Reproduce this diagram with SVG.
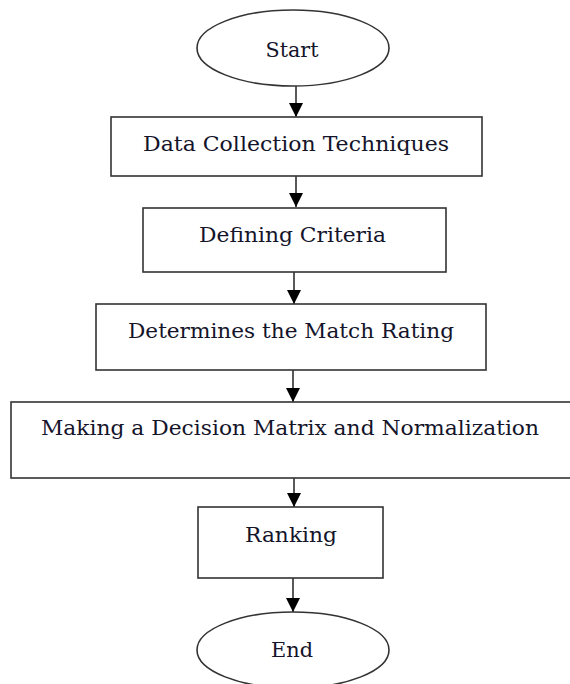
<svg xmlns="http://www.w3.org/2000/svg" width="570" height="684" viewBox="0 0 570 684">
<style>
.shape{fill:#fff;stroke:#333;stroke-width:1.6}
.lbl{font-family:"DejaVu Serif","Liberation Serif",serif;font-size:20.5px;fill:#14142a;text-anchor:middle}
.conn{stroke:#222;stroke-width:1.5;fill:none}
</style>
<defs>
<marker id="arrow" markerUnits="userSpaceOnUse" markerWidth="14" markerHeight="14" refX="14" refY="7" orient="auto" viewBox="0 0 14 14">
<path d="M0,0 L14,7 L0,14 Z" fill="#000"/>
</marker>
</defs>
<rect width="570" height="684" fill="#fff"/>
<g id="connectors">
<line class="conn" x1="296" y1="86" x2="296" y2="117" marker-end="url(#arrow)"/>
<line class="conn" x1="296" y1="176" x2="296" y2="207" marker-end="url(#arrow)"/>
<line class="conn" x1="294" y1="272" x2="294" y2="304" marker-end="url(#arrow)"/>
<line class="conn" x1="293" y1="370" x2="293" y2="402" marker-end="url(#arrow)"/>
<line class="conn" x1="294" y1="478" x2="294" y2="507" marker-end="url(#arrow)"/>
<line class="conn" x1="293" y1="578" x2="293" y2="612" marker-end="url(#arrow)"/>
</g>
<g id="start">
<ellipse class="shape" cx="293" cy="48" rx="96" ry="38"/>
<text class="lbl" x="292" y="57" textLength="53" lengthAdjust="spacingAndGlyphs">Start</text>
</g>
<g id="data-collection">
<rect class="shape" x="111" y="117" width="371" height="59"/>
<text class="lbl" x="296" y="151" textLength="306" lengthAdjust="spacingAndGlyphs">Data Collection Techniques</text>
</g>
<g id="defining-criteria">
<rect class="shape" x="143" y="208" width="303" height="64"/>
<text class="lbl" x="292.5" y="242" textLength="187" lengthAdjust="spacingAndGlyphs">Defining Criteria</text>
</g>
<g id="match-rating">
<rect class="shape" x="96" y="304" width="390" height="66"/>
<text class="lbl" x="291" y="338" textLength="326" lengthAdjust="spacingAndGlyphs">Determines the Match Rating</text>
</g>
<g id="decision-matrix">
<rect class="shape" x="11" y="402" width="572" height="76"/>
<text class="lbl" x="290" y="435" textLength="498" lengthAdjust="spacingAndGlyphs">Making a Decision Matrix and Normalization</text>
</g>
<g id="ranking">
<rect class="shape" x="198" y="507" width="185" height="71"/>
<text class="lbl" x="291" y="542" textLength="92" lengthAdjust="spacingAndGlyphs">Ranking</text>
</g>
<g id="end">
<ellipse class="shape" cx="293" cy="650" rx="96" ry="38"/>
<text class="lbl" x="292" y="657" textLength="42" lengthAdjust="spacingAndGlyphs">End</text>
</g>
</svg>
